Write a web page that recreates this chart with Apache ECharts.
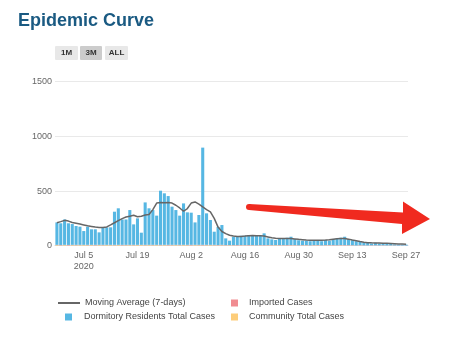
<!DOCTYPE html>
<html>
<head>
<meta charset="utf-8">
<script src="https://cdn.jsdelivr.net/npm/echarts@6/dist/echarts.min.js"></script>
<style>
html,body{margin:0;padding:0;background:#fff;}
#chart{width:461px;height:339px;}
</style>
</head>
<body>
<div id="chart"></div>
<script>
const categories = [
 'Jun 28','Jun 29','Jun 30',
 'Jul 1','Jul 2','Jul 3','Jul 4','Jul 5','Jul 6','Jul 7','Jul 8','Jul 9','Jul 10','Jul 11','Jul 12','Jul 13','Jul 14','Jul 15','Jul 16','Jul 17','Jul 18','Jul 19','Jul 20','Jul 21','Jul 22','Jul 23','Jul 24','Jul 25','Jul 26','Jul 27','Jul 28','Jul 29','Jul 30','Jul 31',
 'Aug 1','Aug 2','Aug 3','Aug 4','Aug 5','Aug 6','Aug 7','Aug 8','Aug 9','Aug 10','Aug 11','Aug 12','Aug 13','Aug 14','Aug 15','Aug 16','Aug 17','Aug 18','Aug 19','Aug 20','Aug 21','Aug 22','Aug 23','Aug 24','Aug 25','Aug 26','Aug 27','Aug 28','Aug 29','Aug 30','Aug 31',
 'Sep 1','Sep 2','Sep 3','Sep 4','Sep 5','Sep 6','Sep 7','Sep 8','Sep 9','Sep 10','Sep 11','Sep 12','Sep 13','Sep 14','Sep 15','Sep 16','Sep 17','Sep 18','Sep 19','Sep 20','Sep 21','Sep 22','Sep 23','Sep 24','Sep 25','Sep 26','Sep 27'
];
const dormCases = [
 205,198,232,198,190,172,166,126,166,142,142,114,160,160,160,303,334,232,232,318,
 187,242,111,388,334,318,267,495,471,446,349,318,267,379,297,294,205,273,889,288,
 227,120,166,181,61,40,76,76,85,85,92,85,85,85,107,61,52,46,61,55,
 67,76,55,46,40,40,37,40,40,37,46,40,55,61,67,76,55,46,38,32,
 26,23,17,23,17,20,17,15,9,8,8,8
];
const importedCases = [
 2,3,1,4,2,3,2,1,3,2,4,2,3,1,2,3,2,4,3,2,
 3,2,1,3,2,3,2,3,2,4,3,2,3,2,3,4,2,3,4,3,
 2,3,2,3,2,1,2,3,2,2,3,2,1,2,3,2,2,1,2,2,
 3,2,2,1,2,2,1,2,2,1,2,2,3,2,2,3,2,2,1,2,
 2,1,2,2,1,2,1,1,1,1,1,1
];
const communityCases = [
 6,4,7,3,6,5,6,7,5,6,4,6,5,7,6,5,6,4,5,6,
 5,6,7,5,6,5,6,5,6,4,5,6,5,6,5,4,6,5,4,5,
 6,5,4,5,4,5,4,3,4,4,3,4,3,4,3,4,4,5,4,4,
 3,4,4,3,4,4,3,4,4,3,4,4,3,3,4,3,3,3,2,3,
 2,2,2,2,2,2,2,2,2,1,1,1
];
const movingAverage = [
 210,220,232,225,212,205,198,190,182,176,170,167,167,172,190,210,230,248,262,270,
 278,265,270,280,285,330,390,395,392,395,390,370,345,315,340,390,400,380,355,330,
 310,250,170,130,110,95,88,85,85,88,92,93,92,90,88,80,72,68,66,65,
 66,65,62,58,55,52,50,50,50,50,52,55,60,64,66,66,60,52,45,38,
 32,28,26,25,24,23,22,20,18,16,15,14
];
const yTicks = [0, 500, 1000, 1500];
const xTickLabels = ['Jul 5','Jul 19','Aug 2','Aug 16','Aug 30','Sep 13','Sep 27'];
const rangeButtons = ['1M','3M','ALL'];

const FONT = '"Liberation Sans", Arial, Helvetica, sans-serif';
const chart = echarts.init(document.getElementById('chart'));

const btnX = [55, 80, 105];
const btnW = [23, 22, 23];
const btnFill = ['#e8e8e8', '#cccccc', '#e8e8e8'];
const graphics = [];
rangeButtons.forEach((b, i) => {
  graphics.push({type:'rect', shape:{x:btnX[i], y:46, width:btnW[i], height:14, r:1}, style:{fill:btnFill[i]}, silent:true});
  graphics.push({type:'text', x:btnX[i] + btnW[i]/2, y:53, style:{text:b, fill:'#333', font:'bold 8px ' + FONT, align:'center', verticalAlign:'middle'}, silent:true});
});
// red annotation arrow
graphics.push({type:'polygon', shape:{points:[[249,204],[403,212.5],[403,201.5],[430,219],[402,234],[402,224],[249,210]]}, style:{fill:'#f02a1f'}, z:100, silent:true});
graphics.push({type:'circle', shape:{cx:249, cy:207, r:3}, style:{fill:'#f02a1f'}, z:100, silent:true});

const legendText = {fontSize:9, color:'#444', fontFamily:FONT};
const option = {
  animation: false,
  textStyle: {fontFamily: FONT},
  title: {text:'Epidemic Curve', left:18, top:12, padding:0, textStyle:{fontSize:18, fontWeight:'bold', color:'#1a5a82', fontFamily:FONT}},
  grid: {left:55, right:53, top:81.7, bottom:93.3, containLabel:false},
  graphic: graphics,
  legend: [
    {data:[{name:'Moving Average (7-days)', icon:'rect'}], left:58, top:298.5, padding:0, itemWidth:22, itemHeight:2, textStyle:legendText, selectedMode:false},
    {data:[{name:'Dormitory Residents Total Cases', icon:'rect'}], left:65, top:312.5, padding:0, itemWidth:7, itemHeight:7, textStyle:Object.assign({padding:[0,0,0,7]}, legendText), selectedMode:false},
    {data:[{name:'Imported Cases', icon:'rect'}], left:231, top:298.5, padding:0, itemWidth:7, itemHeight:7, textStyle:Object.assign({padding:[0,0,0,6]}, legendText), selectedMode:false},
    {data:[{name:'Community Total Cases', icon:'rect'}], left:231, top:312.5, padding:0, itemWidth:7, itemHeight:7, textStyle:Object.assign({padding:[0,0,0,6]}, legendText), selectedMode:false}
  ],
  xAxis: {
    type:'category', data:categories, boundaryGap:true,
    axisLine:{lineStyle:{color:'#ccd6eb'}},
    axisTick:{show:false},
    axisLabel:{
      interval:(idx, val) => xTickLabels.indexOf(val) >= 0,
      formatter:(val) => val === xTickLabels[0] ? val + '\n2020' : val,
      color:'#666', fontSize:9, margin:4, lineHeight:11, fontFamily:FONT
    }
  },
  yAxis: {
    type:'value', min:yTicks[0], max:yTicks[yTicks.length-1], interval:yTicks[1]-yTicks[0],
    axisLine:{show:false}, axisTick:{show:false},
    axisLabel:{color:'#666', fontSize:9, margin:3, fontFamily:FONT, formatter:(v) => String(v)},
    splitLine:{lineStyle:{color:'#e9e9e9'}}
  },
  series: [
    {name:'Community Total Cases', type:'bar', stack:'c', data:communityCases, itemStyle:{color:'#fdcd7a'}, barCategoryGap:'20%'},
    {name:'Imported Cases', type:'bar', stack:'c', data:importedCases, itemStyle:{color:'#f08c91'}, barCategoryGap:'20%'},
    {name:'Dormitory Residents Total Cases', type:'bar', stack:'c', data:dormCases, itemStyle:{color:'#56b7e3'}, barCategoryGap:'20%'},
    {name:'Moving Average (7-days)', type:'line', data:movingAverage, symbol:'none', lineStyle:{color:'#666', width:1.5}, itemStyle:{color:'#666'}, z:5}
  ]
};
chart.setOption(option);
</script>
</body>
</html>
